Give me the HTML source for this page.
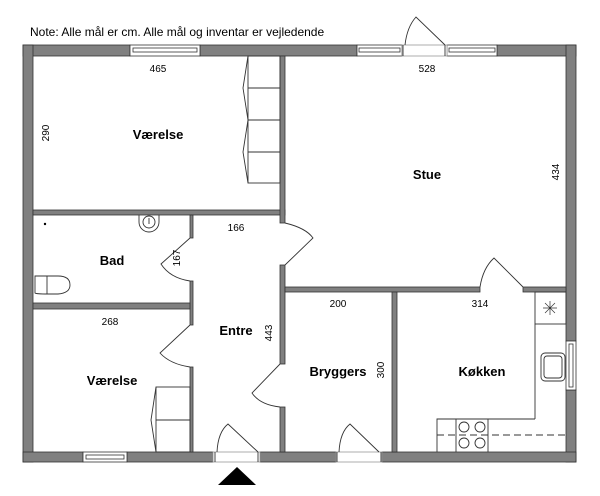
<!DOCTYPE html>
<html><head><meta charset="utf-8"><style>
html,body{margin:0;padding:0;background:#fff;width:600px;height:496px;overflow:hidden}
text{font-family:"Liberation Sans",sans-serif;fill:#000}
.b{font-weight:bold;font-size:13px}
.s{font-size:10px}
</style></head><body>
<svg width="600" height="496" viewBox="0 0 600 496" xmlns="http://www.w3.org/2000/svg">
<text x="30" y="36" font-size="12">Note: Alle mål er cm. Alle mål og inventar er vejledende</text>
<g fill="#808080" stroke="#333" stroke-width="0.8">
<!-- outer walls -->
<rect x="23" y="45" width="107" height="11"/>
<rect x="200" y="45" width="157" height="11"/>
<rect x="497" y="45" width="79" height="11"/>
<rect x="23" y="45" width="10" height="417"/>
<rect x="566" y="45" width="10" height="296"/>
<rect x="566" y="390" width="10" height="72"/>
<rect x="23" y="452" width="60" height="10"/>
<rect x="127" y="452" width="86" height="10"/>
<rect x="260" y="452" width="76" height="10"/>
<rect x="382" y="452" width="194" height="10"/>
<!-- interior -->
<rect x="33" y="210" width="252" height="5"/>
<rect x="280" y="56" width="5" height="167"/>
<rect x="280" y="265" width="5" height="99"/>
<rect x="280" y="407" width="5" height="45"/>
<rect x="285" y="287" width="195" height="5"/>
<rect x="523" y="287" width="43" height="5"/>
<rect x="392" y="292" width="5" height="160"/>
<rect x="190" y="215" width="3" height="23"/>
<rect x="190" y="281" width="3" height="44"/>
<rect x="190" y="367" width="3" height="85"/>
<rect x="33" y="303" width="157" height="6"/>
</g>
<g fill="#fff" stroke="#333" stroke-width="0.8">
<!-- windows -->
<rect x="130" y="45" width="70" height="11"/><rect x="133" y="48" width="64" height="4"/>
<rect x="357" y="45" width="45" height="11"/><rect x="359" y="48" width="41" height="4"/>
<rect x="447" y="45" width="50" height="11"/><rect x="449" y="48" width="46" height="4"/>
<rect x="83" y="452" width="44" height="10"/><rect x="86" y="455" width="38" height="4"/>
<rect x="566" y="341" width="10" height="49"/><rect x="569" y="344" width="4" height="43"/>
<!-- door openings -->
<rect x="402" y="45" width="45" height="11" stroke="#999"/>
<rect x="213" y="452" width="47" height="10" stroke="#999"/>
<rect x="336" y="452" width="46" height="10" stroke="#999"/>
</g>
<g fill="none" stroke="#333" stroke-width="0.9">
<line x1="403" y1="45" x2="403" y2="56"/><line x1="445" y1="45" x2="445" y2="56"/>
<path d="M405 45 Q407 27 416 17 L445 45"/>
<line x1="215" y1="452" x2="215" y2="462"/><line x1="258" y1="452" x2="258" y2="462"/>
<path d="M217 452 Q218 432 228 424 L258 452"/>
<line x1="337" y1="452" x2="337" y2="462"/><line x1="381" y1="452" x2="381" y2="462"/>
<path d="M339 452 Q340 432 350 424 L379 452"/>
<!-- interior doors -->
<path d="M285 223 Q306 228 313 238 L285 265"/>
<path d="M190 238 L161 264 Q170 278 190 281"/>
<path d="M190 325 L160 353 Q170 364 190 367"/>
<path d="M280 364 L252 393 Q260 405 280 407"/>
<path d="M480 287 Q483 268 494 258 L523 287"/>
<!-- wardrobe top -->
<rect x="248" y="56" width="32" height="127"/>
<line x1="248" y1="88" x2="280" y2="88"/><line x1="248" y1="120" x2="280" y2="120"/><line x1="248" y1="152" x2="280" y2="152"/>
<path d="M248 56 L243 88 L248 120 L243 152 L248 183"/>
<!-- wardrobe bottom -->
<rect x="156" y="387" width="34" height="65"/>
<line x1="156" y1="420" x2="190" y2="420"/>
<path d="M156 387 L151 420 L156 452"/>
<!-- bath -->
<path d="M139 215 L139 222 A10 10 0 0 0 159 222 L159 215"/>
<circle cx="149" cy="222" r="6"/><line x1="149" y1="218" x2="149" y2="224"/>
<path d="M35 276 L35 293 Q36 294 48 294 L58 294 Q70 293 70 285 Q70 276 58 276 Z"/>
<line x1="47" y1="276" x2="47" y2="294"/>
<!-- kitchen -->
<rect x="535" y="292" width="31" height="32"/>
<line x1="535" y1="324" x2="535" y2="419"/>
<path d="M535 419 L437 419 L437 452"/>
<line x1="456" y1="419" x2="456" y2="452"/><line x1="488" y1="419" x2="488" y2="452"/>
<line x1="437" y1="435" x2="566" y2="435" stroke-dasharray="7,4"/>
<circle cx="464" cy="427" r="5"/><circle cx="480" cy="427" r="5"/>
<circle cx="464" cy="443" r="5"/><circle cx="480" cy="443" r="5"/>
<rect x="541" y="353" width="24" height="28" rx="4"/><rect x="544" y="356" width="18" height="22" rx="3"/>
<path d="M543 308 L557 308 M550 301 L550 315 M545 303 L555 313 M555 303 L545 313" stroke-width="0.7"/>
</g>
<circle cx="45" cy="224" r="1.2" fill="#000"/>
<polygon points="218,485 237,467 256,485" fill="#000"/>
<text class="b" x="158" y="139" text-anchor="middle">Værelse</text>
<text class="b" x="427" y="179" text-anchor="middle">Stue</text>
<text class="b" x="112" y="265" text-anchor="middle">Bad</text>
<text class="b" x="236" y="335" text-anchor="middle">Entre</text>
<text class="b" x="112" y="385" text-anchor="middle">Værelse</text>
<text class="b" x="338" y="376" text-anchor="middle">Bryggers</text>
<text class="b" x="482" y="376" text-anchor="middle">Køkken</text>
<text class="s" x="158" y="72" text-anchor="middle">465</text>
<text class="s" x="427" y="72" text-anchor="middle">528</text>
<text class="s" x="236" y="231" text-anchor="middle">166</text>
<text class="s" x="110" y="325" text-anchor="middle">268</text>
<text class="s" x="338" y="307" text-anchor="middle">200</text>
<text class="s" x="480" y="307" text-anchor="middle">314</text>
<text class="s" transform="translate(49,133) rotate(-90)" text-anchor="middle">290</text>
<text class="s" transform="translate(559,172) rotate(-90)" text-anchor="middle">434</text>
<text class="s" transform="translate(180,258) rotate(-90)" text-anchor="middle">167</text>
<text class="s" transform="translate(272,333) rotate(-90)" text-anchor="middle">443</text>
<text class="s" transform="translate(384,370) rotate(-90)" text-anchor="middle">300</text>
</svg>
</body></html>
